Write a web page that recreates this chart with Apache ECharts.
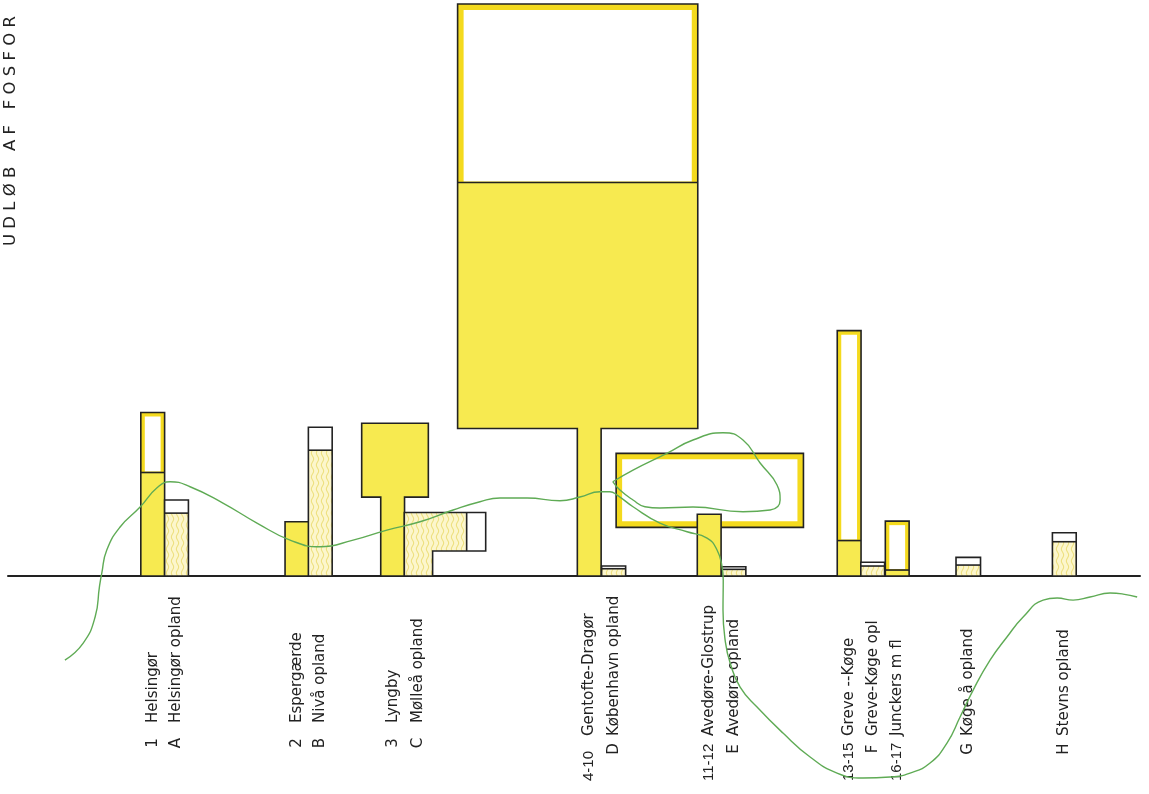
<!DOCTYPE html>
<html>
<head>
<meta charset="utf-8">
<script src="https://cdn.jsdelivr.net/npm/echarts@6/dist/echarts.min.js"></script>
<style>html,body{margin:0;padding:0;background:#fff}#c{width:1149px;height:794px}</style>
</head>
<body>
<div id="c"></div>
<script>
// ---------- DATA ----------
const titleText = 'U D L Ø B   A F   F O S F O R';
const prefixes = ['1','A','2','B','3','C','4-10','D','11-12','E','13-15','F','16-17','G','H'];
const names = ['Helsingør','Helsingør opland','Espergærde','Nivå opland','Lyngby','Mølleå opland',
  'Gentofte-Dragør','København opland','Avedøre-Glostrup','Avedøre opland',
  'Greve --Køge','Greve-Køge opl','Junckers m fl','Køge å opland','Stevns opland'];
// position along the coast (left edge) and width of each column
const slot  = [5.58, 6.58, 11.64, 12.62, 15.66, 16.65, 23.92, 24.94, 28.96, 29.99, 34.84, 35.83, 36.86, 39.83, 43.88];
const width = [1, 1, 1, 1, 1, 1.19, 1, 1.01, 1, 1.01, 1, 1, 1, 1.03, 1];
// lower (yellow / wavy) part and total height
const filled = [18.1, 11.0, 9.5, 22.0, 13.8, 11.1, 25.8, 1.28, 10.8, 1.17, 6.2, 1.75, 1.05, 1.92, 6.0];
const total  = [28.6, 13.3, 9.5, 26.0, 13.8, 11.1, 25.8, 1.75, 10.8, 1.63, 42.9, 2.4, 9.6, 3.27, 7.57];
// widened heads
const headSite   = ['3', '4-10', '11-12'];
const headX0     = [14.86, 18.89, 25.55];
const headX1     = [17.66, 28.98, 33.42];
const headBase   = [13.8, 25.8, 8.51];
const headFilled = [26.7, 68.8, 8.51];
const headTop    = [26.7, 100, 21.45];
// sideways spread (Mølleå)
const spreadSite  = ['C'];
const spreadX1    = [20.07];
const spreadBase  = [4.37];
const spreadFillX = [19.27];
// coastline and island (Amager)
const coastX = [2.39,3.16,3.66,3.84,3.94,4.15,4.71,5.55,6.25,6.81,7.65,9.03,10.46,11.85,13.11,14.50,15.92,17.31,18.70,19.83,20.67,21.81,23.19,24.03,24.87,25.29,25.59,26.26,27.39,28.53,29.37,29.79,30.0,30.05,30.04,30.13,30.34,30.76,31.47,32.56,33.70,34.83,35.92,37.06,37.90,38.74,39.45,40.0,40.55,41.26,41.97,42.65,43.49,44.08,44.75,45.46,46.30,46.85,47.44];
const coastY = [-14.69,-11.71,-7.17,-1.92,0.52,4.55,8.57,12.06,15.38,16.49,15.61,12.76,9.27,6.29,5.12,6.29,8.04,9.49,11.54,12.99,13.64,13.64,13.16,13.81,14.74,14.74,14.16,12.12,9.27,7.74,6.64,4.55,1.63,-0.70,-5.94,-11.19,-15.21,-19.41,-22.90,-27.45,-31.64,-34.44,-35.31,-35.14,-34.44,-32.69,-29.20,-24.65,-19.93,-14.69,-10.66,-7.17,-4.20,-3.85,-4.20,-3.67,-2.97,-3.15,-3.67];
const islandX = [25.41,26.26,27.68,28.78,30.04,30.88,31.60,32.31,32.44,32.02,30.88,28.78,27.39,26.76,26.26,25.71,25.41];
const islandY = [16.49,18.53,21.45,23.78,25.05,23.78,19.76,15.91,13.29,11.54,11.24,12.06,11.89,12.12,13.29,15.03,16.49];

// ---------- STYLE ----------
const YELLOW = '#f7ea50', FRAME = '#f4da1e', INK = '#222', GREEN = '#5fab55';
const FONT = '15px "DejaVu Sans"';
const NUMFONT = '15px "Liberation Sans"';

function wavePattern() {
  const c = document.createElement('canvas');
  c.width = 5; c.height = 12;
  const g = c.getContext('2d');
  g.fillStyle = '#fcf6cc'; g.fillRect(0, 0, 5, 12);
  g.strokeStyle = '#e9d862'; g.lineWidth = 1;
  g.beginPath();
  for (let y = -1; y <= 13; y += 0.5) {
    const x = 2.5 + 1.1 * Math.sin(y / 12 * 2 * Math.PI);
    if (y === -1) g.moveTo(x, y); else g.lineTo(x, y);
  }
  g.stroke();
  return c;
}
const WAVE = {image: wavePattern(), repeat: 'repeat'};

const chart = echarts.init(document.getElementById('c'), null, {renderer: 'canvas'});

function rectPx(api, x0, y0, x1, y1) {
  const a = api.coord([x0, y0]), b = api.coord([x1, y1]);
  return {x: Math.min(a[0], b[0]), y: Math.min(a[1], b[1]),
          width: Math.abs(b[0] - a[0]), height: Math.abs(b[1] - a[1])};
}
function framedWhite(ch, r, inset, frameBottom) {
  ch.push({type: 'rect', shape: r, style: {fill: FRAME}});
  ch.push({type: 'rect', shape: {x: r.x + inset, y: r.y + inset,
    width: Math.max(0, r.width - 2 * inset), height: Math.max(0, r.height - inset - (frameBottom ? inset : 1))},
    style: {fill: '#fff'}});
}
function hline(ch, api, x0, x1, y) {
  const a = api.coord([x0, y]), b = api.coord([x1, y]);
  ch.push({type: 'line', shape: {x1: a[0], y1: a[1], x2: b[0], y2: b[1]}, style: {stroke: INK, lineWidth: 1.6}});
}
function outline(ch, pts) {
  ch.push({type: 'polygon', shape: {points: pts}, style: {fill: 'none', stroke: INK, lineWidth: 1.6}});
}

function renderSite(params, api) {
  const i = api.value(0);
  const ch = [];
  const pre = prefixes[i];
  const opland = /^[A-Z]$/.test(pre);
  const x0 = slot[i], x1 = slot[i] + width[i];
  const lowFill = opland ? WAVE : YELLOW;
  const h = headSite.indexOf(pre);
  const s = spreadSite.indexOf(pre);

  if (h >= 0 && headBase[h] >= total[i] - 0.01) {
    const pts = [[x0, 0], [x0, headBase[h]], [headX0[h], headBase[h]], [headX0[h], headTop[h]],
                 [headX1[h], headTop[h]], [headX1[h], headBase[h]], [x1, headBase[h]], [x1, 0]].map(p => api.coord(p));
    ch.push({type: 'polygon', shape: {points: pts}, style: {fill: YELLOW}});
    if (headTop[h] > headFilled[h]) {
      framedWhite(ch, rectPx(api, headX0[h], headFilled[h], headX1[h], headTop[h]), 6, false);
      hline(ch, api, headX0[h], headX1[h], headFilled[h]);
    }
    outline(ch, pts);
    return {type: 'group', children: ch};
  }
  if (h >= 0) {
    const r = rectPx(api, headX0[h], headBase[h], headX1[h], headTop[h]);
    if (headFilled[h] > headBase[h]) ch.push({type: 'rect', shape: rectPx(api, headX0[h], headBase[h], headX1[h], headFilled[h]), style: {fill: YELLOW}});
    framedWhite(ch, rectPx(api, headX0[h], headFilled[h], headX1[h], headTop[h]), 6, headFilled[h] <= headBase[h]);
    ch.push({type: 'rect', shape: r, style: {fill: 'none', stroke: INK, lineWidth: 1.6}});
  }
  if (s >= 0) {
    const pts = [[x0, 0], [x0, total[i]], [spreadX1[s], total[i]], [spreadX1[s], spreadBase[s]],
                 [x1, spreadBase[s]], [x1, 0]].map(p => api.coord(p));
    ch.push({type: 'polygon', shape: {points: pts}, style: {fill: lowFill}});
    ch.push({type: 'rect', shape: rectPx(api, spreadFillX[s], spreadBase[s], spreadX1[s], total[i]), style: {fill: '#fff'}});
    const a = api.coord([spreadFillX[s], spreadBase[s]]), b = api.coord([spreadFillX[s], total[i]]);
    ch.push({type: 'line', shape: {x1: a[0], y1: a[1], x2: b[0], y2: b[1]}, style: {stroke: INK, lineWidth: 1.6}});
    outline(ch, pts);
    return {type: 'group', children: ch};
  }
  ch.push({type: 'rect', shape: rectPx(api, x0, 0, x1, filled[i]), style: {fill: lowFill}});
  if (total[i] > filled[i]) {
    const r = rectPx(api, x0, filled[i], x1, total[i]);
    if (opland) ch.push({type: 'rect', shape: r, style: {fill: '#fff'}});
    else framedWhite(ch, r, 4, false);
    hline(ch, api, x0, x1, filled[i]);
  }
  ch.push({type: 'rect', shape: rectPx(api, x0, 0, x1, total[i]), style: {fill: 'none', stroke: INK, lineWidth: 1.6}});
  return {type: 'group', children: ch};
}

function txt(x, y, text, font, align) {
  return {type: 'text', x: x, y: y, rotation: Math.PI / 2,
    style: {text: text, font: font, fill: INK, align: align, verticalAlign: 'middle',
            textAlign: align, textVerticalAlign: 'middle'}};
}
function renderLabel(params, api) {
  const i = api.value(0);
  const c = api.coord([slot[i] + width[i] / 2, 0]);
  const pre = prefixes[i];
  const nameBottom = i >= 6 ? 736 : 723;
  const ch = [];
  if (pre.length > 1) ch.push(txt(c[0], 781, pre, NUMFONT, 'left'));
  else ch.push(txt(c[0], i >= 6 ? 749 : 743, pre, FONT, 'center'));
  ch.push(txt(c[0], nameBottom, names[i], FONT, 'left'));
  return {type: 'group', children: ch};
}

const idx = prefixes.map((p, i) => [i]);
const option = {
  animation: false,
  backgroundColor: '#fff',
  grid: {left: 8, right: 9, top: 4, bottom: 0, containLabel: false},
  xAxis: {type: 'value', min: 0, max: 47.56, position: 'bottom',
    axisLine: {show: true, onZero: true, lineStyle: {color: INK, width: 2}},
    axisTick: {show: false}, axisLabel: {show: false}, splitLine: {show: false}},
  yAxis: {type: 'value', min: -38.1, max: 100, show: false,
    axisLine: {show: false}, splitLine: {show: false}},
  graphic: [{type: 'text', x: 11, y: 246, rotation: Math.PI / 2,
    style: {text: titleText, font: '16.5px "DejaVu Sans"', fill: INK, align: 'left', verticalAlign: 'middle', textAlign: 'left', textVerticalAlign: 'middle'}}],
  series: [
    {type: 'custom', name: 'columns', renderItem: renderSite, data: idx, z: 2, clip: false},
    {type: 'custom', name: 'labels', renderItem: renderLabel, data: idx, z: 3, clip: false},
    {type: 'line', name: 'coast', data: coastX.map((x, k) => [x, coastY[k]]), smooth: 0.5, showSymbol: false,
      lineStyle: {color: GREEN, width: 1.4}, z: 5, clip: false},
    {type: 'line', name: 'island', data: islandX.map((x, k) => [x, islandY[k]]), smooth: 0.5, showSymbol: false,
      lineStyle: {color: GREEN, width: 1.4}, z: 5, clip: false}
  ]
};
chart.setOption(option);
</script>
</body>
</html>
